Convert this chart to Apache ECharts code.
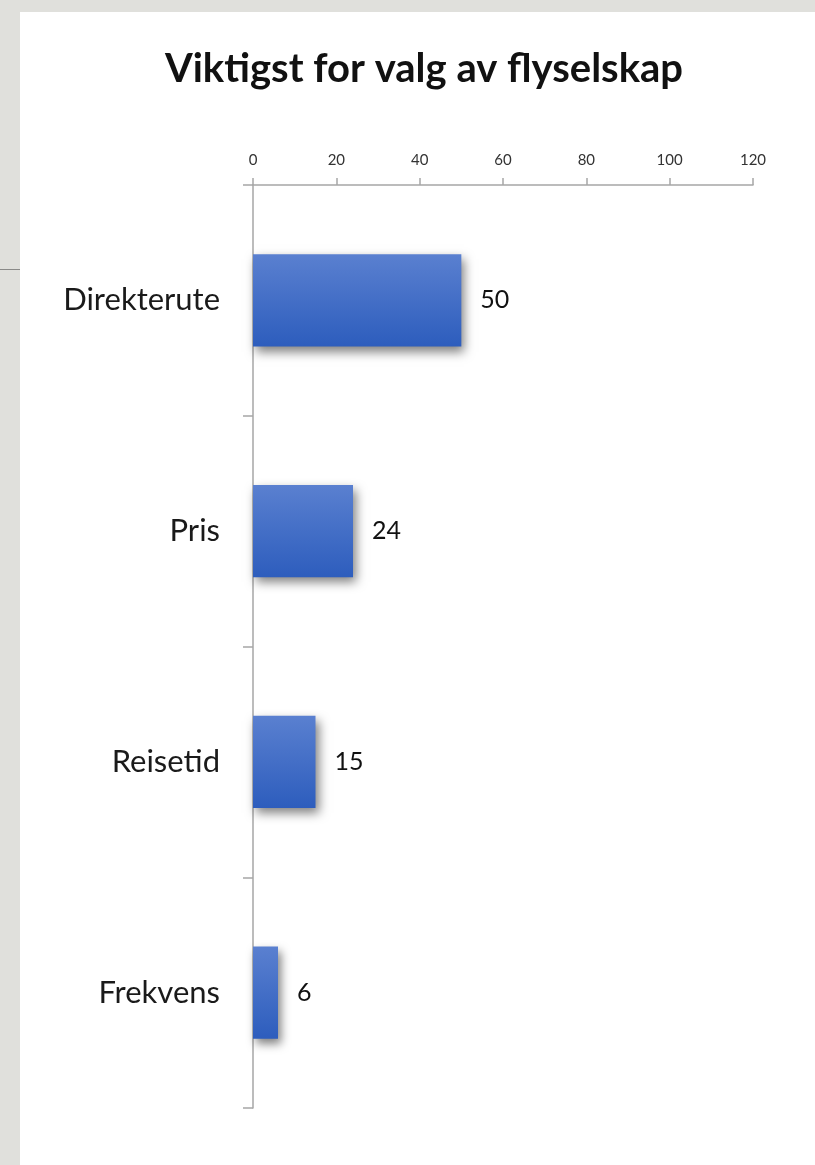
<!DOCTYPE html>
<html>
<head>
<meta charset="utf-8">
<style>
  html, body { margin: 0; padding: 0; background: #e0e0dc; }
  #chart { width: 815px; height: 1165px; }
</style>
<script src="https://cdn.jsdelivr.net/npm/echarts@6/dist/echarts.min.js"></script>
</head>
<body>
<div id="chart"></div>
<script>
// Chart content
const titleText = 'Viktigst for valg av flyselskap';
const categories = ['Direkterute', 'Pris', 'Reisetid', 'Frekvens'];
const values = [50, 24, 15, 6];
const axisMin = 0;
const axisMax = 120;
const axisStep = 20;

const chart = echarts.init(document.getElementById('chart'), null, { renderer: 'canvas' });

const barGradient = new echarts.graphic.LinearGradient(0, 0, 0, 1, [
  { offset: 0, color: '#5a80d0' },
  { offset: 1, color: '#2d5dbd' }
]);

chart.setOption({
  backgroundColor: '#e0e0dc',
  animation: false,
  graphic: [
    { type: 'rect', left: 20, top: 12, z: -10, shape: { width: 795, height: 1153 }, style: { fill: '#ffffff' } },
    { type: 'line', z: -9, shape: { x1: 0, y1: 269.5, x2: 20, y2: 269.5 }, style: { stroke: '#8a8a88', lineWidth: 1 } }
  ],
  title: {
    text: titleText,
    left: 419,
    textAlign: 'center',
    top: 44,
    textStyle: { fontFamily: 'Lato', fontWeight: 'bold', fontSize: 40, color: '#111111' }
  },
  grid: { left: 253, top: 185, width: 500, height: 923, containLabel: false },
  xAxis: {
    type: 'value',
    position: 'top',
    min: axisMin,
    max: axisMax,
    interval: axisStep,
    splitLine: { show: false },
    axisLine: { show: true, lineStyle: { color: '#a6a6a6', width: 1.5 } },
    axisTick: { show: true, length: 7, lineStyle: { color: '#a6a6a6', width: 1.5 } },
    axisLabel: { margin: 17, fontFamily: 'Lato', fontSize: 15, color: '#333333' }
  },
  yAxis: {
    type: 'category',
    data: categories,
    inverse: true,
    axisLine: { show: true, lineStyle: { color: '#a6a6a6', width: 1.5 } },
    axisTick: { show: true, length: 10, lineStyle: { color: '#a6a6a6', width: 1.5 } },
    axisLabel: { margin: 33, fontFamily: 'Lato', fontSize: 31, color: '#1a1a1a' }
  },
  series: [{
    type: 'bar',
    data: values,
    barWidth: '40%',
    itemStyle: {
      color: barGradient,
      shadowColor: 'rgba(0,0,0,0.5)',
      shadowBlur: 10,
      shadowOffsetX: 3,
      shadowOffsetY: 5
    },
    label: {
      show: true,
      position: 'right',
      distance: 19,
      fontFamily: 'Lato',
      fontSize: 25,
      color: '#111111'
    }
  }]
});
</script>
</body>
</html>
